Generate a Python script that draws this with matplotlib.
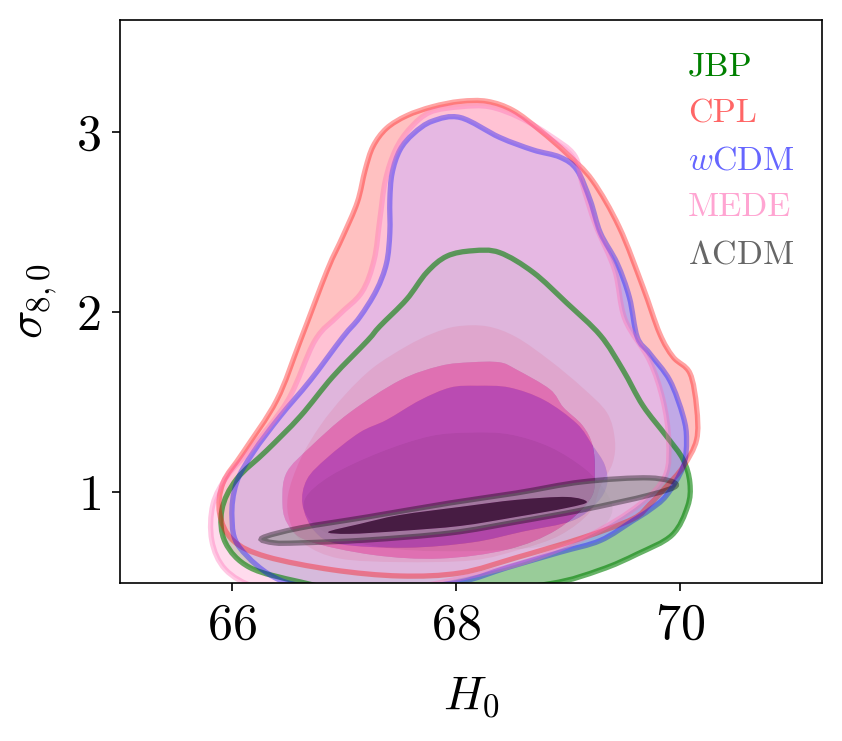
import numpy as np
import matplotlib
matplotlib.use('Agg')
import matplotlib.pyplot as plt
import matplotlib.colors as mcolors
from matplotlib.path import Path
from matplotlib.patches import PathPatch

plt.rcParams['font.family'] = 'serif'
plt.rcParams['font.serif'] = ['cmr10']
plt.rcParams['mathtext.fontset'] = 'cm'
plt.rcParams['axes.formatter.use_mathtext'] = True
plt.rcParams['axes.unicode_minus'] = False

# ---------------- data (contour boundaries) ----------------
models = ['JBP', 'CPL', 'wCDM', 'MEDE', 'LCDM']
labels = ['JBP', 'CPL', r'$w$CDM', 'MEDE', r'$\Lambda$CDM']
colors = ['green', 'red', 'blue', 'hotpink', 'black']
fill_alpha = [1.0, 0.6, 0.6, 0.6, 0.6]
line_alpha = [0.6, 0.36, 0.36, 0.36, 0.36]
text_alpha = [1.0, 0.6, 0.6, 0.6, 0.6]

# JBP
jbp_h0_2s = [68.15, 68.39, 68.69, 68.99, 69.29, 69.49, 69.67, 69.88, 70.03, 70.09, 70.07, 69.93, 69.62, 69.29,
             68.84, 67.95, 67.14, 66.61, 66.16, 65.94, 65.91, 66.04, 66.31, 66.61, 66.90, 67.21, 67.32, 67.56,
             67.74, 67.92]
jbp_s8_2s = [2.34, 2.33, 2.22, 2.05, 1.87, 1.68, 1.48, 1.31, 1.18, 1.05, 0.92, 0.76, 0.655, 0.567,
             0.49, 0.43, 0.44, 0.50, 0.58, 0.72, 0.90, 1.07, 1.23, 1.42, 1.64, 1.84, 1.92, 2.07,
             2.22, 2.31]
jbp_h0_1s = [68.13, 68.48, 68.84, 69.15, 69.33, 69.40, 69.30, 69.05, 68.70, 68.13, 67.50, 66.96, 66.70, 66.65,
             66.88, 67.32, 67.77]
jbp_s8_1s = [1.33, 1.32, 1.25, 1.13, 1.01, 0.90, 0.80, 0.73, 0.69, 0.67, 0.68, 0.74, 0.84, 0.96,
             1.09, 1.22, 1.31]

# CPL
cpl_h0_2s = [68.04, 68.28, 68.51, 68.75, 68.99, 69.22, 69.46, 69.67, 69.82, 69.94, 70.09, 70.15, 70.15, 70.03,
             69.88, 69.73, 69.58, 69.13, 68.54, 68.04, 67.50, 66.90, 66.31, 66.01, 65.89, 65.92, 66.10, 66.40,
             66.61, 66.85, 66.99, 67.12, 67.19, 67.26, 67.38, 67.56, 67.79]
cpl_s8_2s = [3.17, 3.17, 3.12, 3.01, 2.88, 2.73, 2.47, 2.14, 1.88, 1.75, 1.66, 1.47, 1.29, 1.14,
             1.03, 0.93, 0.85, 0.745, 0.635, 0.55, 0.533, 0.567, 0.64, 0.73, 0.88, 1.05, 1.22, 1.51,
             1.84, 2.23, 2.42, 2.61, 2.79, 2.92, 3.02, 3.09, 3.14]
cpl_h0_1s = [68.01, 68.28, 68.54, 68.84, 69.13, 69.35, 69.42, 69.40, 69.29, 69.20, 68.93, 68.57, 68.15, 67.50,
             66.96, 66.65, 66.52, 66.50, 66.61, 66.79, 67.01, 67.26, 67.56, 67.79]
cpl_s8_1s = [1.92, 1.92, 1.86, 1.73, 1.58, 1.44, 1.29, 1.16, 1.03, 0.89, 0.76, 0.68, 0.62, 0.61,
             0.63, 0.71, 0.83, 0.98, 1.18, 1.37, 1.54, 1.69, 1.81, 1.88]

# wCDM
wcdm_h0_2s = [68.04, 68.39, 68.69, 68.93, 69.08, 69.20, 69.29, 69.44, 69.55, 69.62, 69.73, 69.91, 70.03, 70.06,
              70.03, 69.88, 69.73, 69.58, 69.29, 68.93, 68.46, 68.04, 67.50, 66.96, 66.43, 66.07, 66.00, 66.04,
              66.19, 66.43, 66.70, 66.99, 67.14, 67.29, 67.38, 67.41, 67.41, 67.43, 67.50, 67.62, 67.79]
wcdm_s8_2s = [3.08, 2.97, 2.90, 2.86, 2.79, 2.62, 2.44, 2.27, 2.08, 1.86, 1.77, 1.62, 1.42, 1.29,
              1.14, 0.98, 0.90, 0.84, 0.73, 0.665, 0.58, 0.50, 0.465, 0.46, 0.51, 0.69, 0.86, 1.05,
              1.22, 1.42, 1.62, 1.86, 1.97, 2.12, 2.27, 2.44, 2.62, 2.77, 2.90, 2.99, 3.06]
wcdm_h0_1s = [68.19, 68.48, 68.79, 69.08, 69.22, 69.33, 69.35, 69.26, 69.04, 68.60, 68.15, 67.56, 66.96, 66.74,
              66.63, 66.67, 66.85, 67.14, 67.38, 67.68, 67.95]
wcdm_s8_1s = [1.59, 1.58, 1.51, 1.38, 1.26, 1.15, 1.04, 0.94, 0.84, 0.78, 0.72, 0.69, 0.71, 0.78,
              0.93, 1.07, 1.19, 1.33, 1.40, 1.51, 1.58]

# MEDE
mede_h0_2s = [68.04, 68.30, 68.57, 68.84, 69.06, 69.13, 69.25, 69.42, 69.51, 69.73, 69.85, 69.90, 69.87, 69.64,
              69.20, 68.66, 68.04, 67.32, 66.61, 66.21, 65.94, 65.82, 65.83, 65.96, 66.17, 66.50, 66.74, 66.95,
              67.16, 67.27, 67.32, 67.37, 67.46, 67.59, 67.77]
mede_s8_2s = [3.14, 3.14, 3.08, 2.98, 2.87, 2.71, 2.48, 2.23, 1.96, 1.73, 1.51, 1.29, 1.09, 0.93,
              0.76, 0.62, 0.52, 0.44, 0.43, 0.47, 0.57, 0.73, 0.93, 1.09, 1.24, 1.51, 1.84, 1.98,
              2.11, 2.29, 2.51, 2.73, 2.90, 3.02, 3.11]
mede_h0_1s = [68.13, 68.39, 68.54, 68.84, 68.96, 69.13, 69.22, 69.24, 69.20, 68.90, 68.46, 67.86, 67.26, 66.67,
              66.49, 66.45, 66.49, 66.70, 67.05, 67.50, 67.86]
mede_s8_1s = [1.72, 1.72, 1.68, 1.57, 1.47, 1.37, 1.26, 1.11, 0.96, 0.79, 0.68, 0.63, 0.65, 0.73,
              0.83, 0.96, 1.11, 1.25, 1.44, 1.62, 1.70]

# LCDM
lcdm_h0_2s = [66.27, 66.61, 67.21, 67.95, 68.54, 69.13, 69.73, 69.97, 69.73, 69.13, 68.54, 67.95, 67.21, 66.61,
              66.38]
lcdm_s8_2s = [0.744, 0.800, 0.861, 0.939, 0.994, 1.056, 1.078, 1.039, 0.983, 0.900, 0.833, 0.772, 0.733, 0.717,
              0.717]
lcdm_h0_1s = [66.86, 67.14, 67.50, 68.04, 68.54, 68.99, 69.17, 68.99, 68.54, 68.04, 67.50, 67.05]
lcdm_s8_1s = [0.778, 0.822, 0.872, 0.917, 0.956, 0.972, 0.944, 0.911, 0.861, 0.811, 0.783, 0.767]

xticks = [66, 68, 70]
yticks = [1, 2, 3]

contours = {
    'JBP': (jbp_h0_2s, jbp_s8_2s, jbp_h0_1s, jbp_s8_1s),
    'CPL': (cpl_h0_2s, cpl_s8_2s, cpl_h0_1s, cpl_s8_1s),
    'wCDM': (wcdm_h0_2s, wcdm_s8_2s, wcdm_h0_1s, wcdm_s8_1s),
    'MEDE': (mede_h0_2s, mede_s8_2s, mede_h0_1s, mede_s8_1s),
    'LCDM': (lcdm_h0_2s, lcdm_s8_2s, lcdm_h0_1s, lcdm_s8_1s),
}


# ---------------- helpers ----------------
def signed_area(h0, s8):
    x = np.asarray(h0, float)
    y = np.asarray(s8, float)
    return 0.5 * np.sum(x * np.roll(y, -1) - np.roll(x, -1) * y)


def closed_curve(h0, s8):
    P = np.column_stack([h0, s8]).astype(float)
    n = len(P)
    verts = [P[0]]
    codes = [Path.MOVETO]
    for i in range(n):
        p0, p1, p2, p3 = P[(i - 1) % n], P[i], P[(i + 1) % n], P[(i + 2) % n]
        verts += [p1 + (p2 - p0) / 6.0, p2 - (p3 - p1) / 6.0, p2]
        codes += [Path.CURVE4] * 3
    verts.append(P[0])
    codes.append(Path.CLOSEPOLY)
    return np.array(verts), codes


def ring_path(h_out, s_out, h_in, s_in):
    h_out, s_out = list(h_out), list(s_out)
    h_in, s_in = list(h_in), list(s_in)
    if signed_area(h_out, s_out) < 0:
        h_out, s_out = h_out[::-1], s_out[::-1]
    if signed_area(h_in, s_in) > 0:
        h_in, s_in = h_in[::-1], s_in[::-1]
    v1, c1 = closed_curve(h_out, s_out)
    v2, c2 = closed_curve(h_in, s_in)
    return Path(np.vstack([v1, v2]), c1 + c2)


# ---------------- figure ----------------
fig = plt.figure(figsize=(8.42, 7.41), dpi=100)
ax = fig.add_axes([120 / 842, 158 / 741, 702 / 842, 563 / 741])

for i, m in enumerate(models):
    h2, s2, h1, s1 = contours[m]
    c = np.array(mcolors.to_rgb(colors[i]))
    pale = c * 0.4 + 0.6
    ax.add_patch(PathPatch(ring_path(h2, s2, h1, s1), facecolor=pale, edgecolor='none',
                           alpha=fill_alpha[i], zorder=1))
    v, cd = closed_curve(h1, s1)
    ax.add_patch(PathPatch(Path(v, cd), facecolor=c, edgecolor='none',
                           alpha=fill_alpha[i], zorder=1))

for i, m in enumerate(models):
    h2, s2, h1, s1 = contours[m]
    v, cd = closed_curve(h2, s2)
    ax.add_patch(PathPatch(Path(v, cd), facecolor='none', edgecolor=colors[i],
                           lw=3.8, alpha=line_alpha[i], zorder=2))

ax.set_xlim(65.0, 71.27)
ax.set_ylim(0.494, 3.622)
ax.set_xticks(xticks)
ax.set_yticks(yticks)
ax.tick_params(axis='both', which='major', labelsize=36, length=6, width=1.2,
               direction='out', pad=8, top=False, right=False)
for sp in ax.spines.values():
    sp.set_linewidth(1.2)

ax.set_xlabel(r'$H_0$', fontsize=34, labelpad=19)
ax.set_ylabel(r'$\sigma_{8,0}$', fontsize=34, labelpad=12)

for i, lab in enumerate(labels):
    ax.text(0.809, 0.902 - i * 0.0835, lab, color=colors[i], alpha=text_alpha[i],
            fontsize=24.5, transform=ax.transAxes, va='baseline', ha='left', zorder=5)

fig.savefig('out.png', dpi=100)
